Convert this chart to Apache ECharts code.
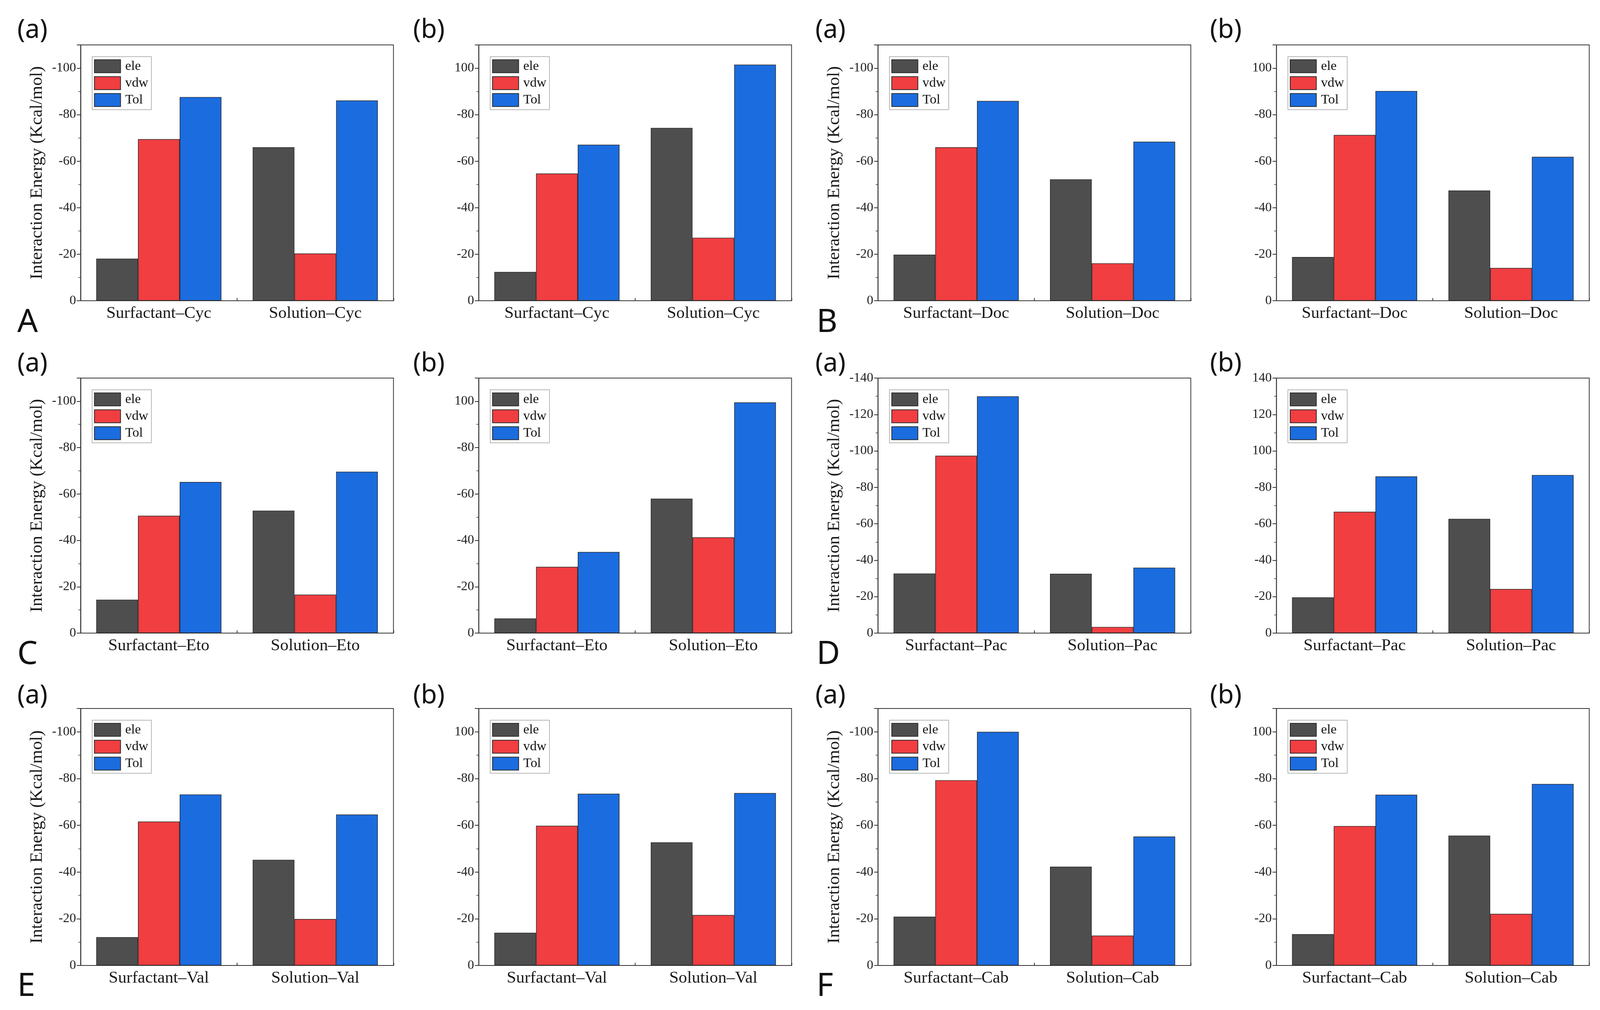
<!DOCTYPE html>
<html><head><meta charset="utf-8">
<script src="https://cdn.jsdelivr.net/npm/echarts@6/dist/echarts.min.js"></script>
<style>html,body{margin:0;padding:0;background:#fff;overflow:hidden;width:100%;height:100%}#c{width:100vw;height:100vh}</style>
</head><body><div id="c"></div>
<script>
// ---------- data ----------
const seriesNames = ['ele', 'vdw', 'Tol'];

const cats_Cyc = ['Surfactant–Cyc', 'Solution–Cyc'];
const cats_Doc = ['Surfactant–Doc', 'Solution–Doc'];
const cats_Eto = ['Surfactant–Eto', 'Solution–Eto'];
const cats_Pac = ['Surfactant–Pac', 'Solution–Pac'];
const cats_Val = ['Surfactant–Val', 'Solution–Val'];
const cats_Cab = ['Surfactant–Cab', 'Solution–Cab'];

// magnitudes of interaction energy (kcal/mol)
const A_a_ele = [18.1, 66.0], A_a_vdw = [69.5, 20.3], A_a_tol = [87.6, 86.1];
const A_b_ele = [12.4, 74.3], A_b_vdw = [54.7, 27.1], A_b_tol = [67.1, 101.5];
const B_a_ele = [19.8, 52.2], B_a_vdw = [66.0, 16.1], B_a_tol = [85.9, 68.4];
const B_b_ele = [18.8, 47.4], B_b_vdw = [71.3, 14.1], B_b_tol = [90.2, 61.9];
const C_a_ele = [14.4, 52.8], C_a_vdw = [50.6, 16.6], C_a_tol = [65.2, 69.6];
const C_b_ele = [6.3, 58.0],  C_b_vdw = [28.6, 41.3], C_b_tol = [35.0, 99.5];
const D_a_ele = [32.7, 32.6], D_a_vdw = [97.4, 3.4],  D_a_tol = [130.0, 35.9];
const D_b_ele = [19.6, 62.7], D_b_vdw = [66.6, 24.2], D_b_tol = [86.0, 86.8];
const E_a_ele = [12.1, 45.2], E_a_vdw = [61.6, 19.9], E_a_tol = [73.2, 64.6];
const E_b_ele = [14.0, 52.7], E_b_vdw = [59.8, 21.6], E_b_tol = [73.5, 73.8];
const F_a_ele = [20.9, 42.3], F_a_vdw = [79.3, 12.8], F_a_tol = [100.0, 55.2];
const F_b_ele = [13.4, 55.6], F_b_vdw = [59.7, 22.1], F_b_tol = [73.1, 77.7];

// tick label texts, indexed by value / 20
const yLabels_a100 = ['0', '-20', '-40', '-60', '-80', '-100'];
const yLabels_b100 = ['0', '-20', '-40', '-60', '-80', '100'];
const yLabels_a140 = ['0', '-20', '-40', '-60', '-80', '-100', '-120', '-140'];
const yLabels_b140 = ['0', '-20', '-40', '-60', '-80', '100', '120', '140'];

const yName = 'Interaction Energy (Kcal/mol)';

// ---------- layout / style (in 4168 x 2586 reference units) ----------
const colLeft = [210, 1247, 2287, 3325];
const plotW = 815;
const rowTop = [115, 968, 1814];
const rowBottom = [770, 1621, 2472];
const colors = ['#4e4e4e', '#f03e41', '#1b6cdf'];
const serif = 'Liberation Serif';
const sans = 'Noto Sans';

const panels = [
  {r:0,c:0,cats:cats_Cyc,d:[A_a_ele,A_a_vdw,A_a_tol],lab:yLabels_a100,max:110,sub:'(a)',big:'A',name:true},
  {r:0,c:1,cats:cats_Cyc,d:[A_b_ele,A_b_vdw,A_b_tol],lab:yLabels_b100,max:110,sub:'(b)'},
  {r:0,c:2,cats:cats_Doc,d:[B_a_ele,B_a_vdw,B_a_tol],lab:yLabels_a100,max:110,sub:'(a)',big:'B',name:true},
  {r:0,c:3,cats:cats_Doc,d:[B_b_ele,B_b_vdw,B_b_tol],lab:yLabels_b100,max:110,sub:'(b)'},
  {r:1,c:0,cats:cats_Eto,d:[C_a_ele,C_a_vdw,C_a_tol],lab:yLabels_a100,max:110,sub:'(a)',big:'C',name:true},
  {r:1,c:1,cats:cats_Eto,d:[C_b_ele,C_b_vdw,C_b_tol],lab:yLabels_b100,max:110,sub:'(b)'},
  {r:1,c:2,cats:cats_Pac,d:[D_a_ele,D_a_vdw,D_a_tol],lab:yLabels_a140,max:140,sub:'(a)',big:'D',name:true},
  {r:1,c:3,cats:cats_Pac,d:[D_b_ele,D_b_vdw,D_b_tol],lab:yLabels_b140,max:140,sub:'(b)'},
  {r:2,c:0,cats:cats_Val,d:[E_a_ele,E_a_vdw,E_a_tol],lab:yLabels_a100,max:110,sub:'(a)',big:'E',name:true},
  {r:2,c:1,cats:cats_Val,d:[E_b_ele,E_b_vdw,E_b_tol],lab:yLabels_b100,max:110,sub:'(b)'},
  {r:2,c:2,cats:cats_Cab,d:[F_a_ele,F_a_vdw,F_a_tol],lab:yLabels_a100,max:110,sub:'(a)',big:'F',name:true},
  {r:2,c:3,cats:cats_Cab,d:[F_b_ele,F_b_vdw,F_b_tol],lab:yLabels_b100,max:110,sub:'(b)'}
];

const subX = [45, 1076, 2124, 3152];
const rowSubY = [78, 932, 1782];
const rowBigY = [826, 1676, 2526];
const colBigX = [45, 0, 2127, 0];

const chart = echarts.init(document.getElementById('c'));
const sx = chart.getWidth() / 4168, sy = chart.getHeight() / 2586, sf = Math.min(sx, sy);
const X = v => v * sx, Y = v => v * sy, F = v => v * sf;

const grid = [], xAxis = [], yAxis = [], series = [], legend = [], graphic = [];

panels.forEach((p, i) => {
  const left = colLeft[p.c], top = rowTop[p.r], h = rowBottom[p.r] - rowTop[p.r];
  grid.push({left: X(left), top: Y(top), width: X(plotW), height: Y(h), show: true,
    borderColor: '#333', borderWidth: F(2), backgroundColor: 'transparent'});
  // main category axis (ticks at category centres)
  xAxis.push({type: 'category', gridIndex: i, data: p.cats,
    axisLine: {lineStyle: {color: '#333', width: F(2)}},
    axisTick: {show: true, inside: true, alignWithLabel: true, length: F(12), lineStyle: {color: '#333', width: F(2)}},
    axisLabel: {fontFamily: serif, fontSize: F(44), color: '#1a1a1a', margin: F(11)},
    splitLine: {show: false}});
  // overlay axis for short boundary ticks
  xAxis.push({type: 'category', gridIndex: i, data: p.cats, position: 'bottom',
    axisLine: {show: false},
    axisTick: {show: true, inside: true, length: F(7), lineStyle: {color: '#333', width: F(2)}},
    axisLabel: {show: false}, splitLine: {show: false}});
  const lab = p.lab;
  yAxis.push({type: 'value', gridIndex: i, min: 0, max: p.max, interval: 20,
    axisLine: {show: true, lineStyle: {color: '#333', width: F(2)}},
    axisTick: {show: true, inside: false, length: F(10), lineStyle: {color: '#333', width: F(2)}},
    minorTick: {show: true, splitNumber: 2, length: F(6), lineStyle: {color: '#333', width: F(1.5)}},
    splitLine: {show: false},
    axisLabel: {fontFamily: serif, fontSize: F(34), color: '#222', margin: F(12),
      showMaxLabel: true,
      formatter: v => { const k = Math.round(v / 20); return (v % 20 === 0 && k < lab.length) ? lab[k] : ''; }},
    name: p.name ? yName : '', nameLocation: 'middle', nameGap: F(90),
    nameTextStyle: {fontFamily: serif, fontSize: F(46), color: '#1a1a1a'}});
  seriesNames.forEach((sn, k) => {
    series.push({type: 'bar', name: sn, xAxisIndex: 2 * i, yAxisIndex: i, data: p.d[k],
      barGap: '0%', barCategoryGap: '20%',
      itemStyle: {color: colors[k], borderColor: '#2a2a2a', borderWidth: F(1.5)}});
  });
  legend.push({left: X(left + 30), top: Y(top + 30), orient: 'vertical', data: seriesNames,
    icon: 'rect', itemWidth: F(68), itemHeight: F(34), itemGap: F(8),
    borderColor: '#a0a0a0', borderWidth: F(1.5), padding: [F(7), F(8), F(7), F(5)],
    selectedMode: false,
    textStyle: {fontFamily: serif, fontSize: F(35), color: '#111', padding: [0, 0, 0, F(7)]}});
  graphic.push({type: 'text', x: X(subX[p.c]), y: Y(rowSubY[p.r]),
    style: {text: p.sub, fontFamily: sans, fontSize: F(68), fill: '#111', align: 'left', verticalAlign: 'middle'}});
  if (p.big) {
    graphic.push({type: 'text', x: X(colBigX[p.c]), y: Y(rowBigY[p.r]),
      style: {text: p.big, fontFamily: sans, fontSize: F(84), fill: '#111', align: 'left', verticalAlign: 'middle'}});
  }
});

chart.setOption({backgroundColor: '#fff', animation: false,
  grid, xAxis, yAxis, series, legend, graphic});
</script>
</body></html>
